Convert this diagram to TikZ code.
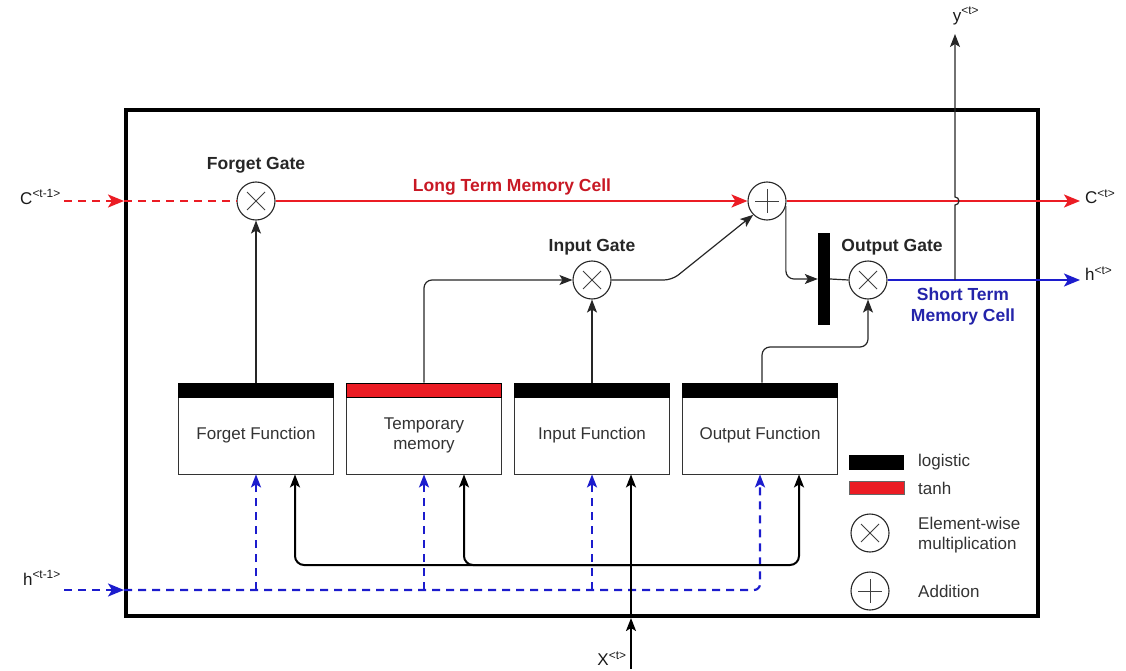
\documentclass[tikz,border=0pt]{standalone}
\usepackage{fontspec}
\setmainfont{Liberation Sans}
\usetikzlibrary{arrows.meta,calc}
\definecolor{cred}{RGB}{235,28,36}
\definecolor{ctxtred}{RGB}{200,24,36}
\definecolor{cblue}{RGB}{28,28,205}
\definecolor{ctxtblue}{RGB}{36,36,170}
\definecolor{cgray}{RGB}{51,51,51}
\begin{document}
\begin{tikzpicture}[x=1pt,y=-1pt,
  font=\fontsize{17}{20}\selectfont,
  arr/.style={-{Stealth[length=13pt,width=10pt,inset=3pt]}},
  bigarr/.style={-{Stealth[length=16pt,width=13pt,inset=4pt]}},
  conn/.style={draw=black!85,line width=1.2pt},
  bus/.style={draw=black,line width=2pt},
  redline/.style={draw=cred,line width=2.2pt},
  reddash/.style={draw=cred,line width=2.2pt,dash pattern=on 8pt off 6pt},
  blueline/.style={draw=cblue,line width=2.2pt},
  bluedash/.style={draw=cblue,line width=2.2pt,dash pattern=on 8pt off 6pt},
  mult/.style={circle,draw=black!85,fill=white,line width=1.1pt,minimum size=38pt,inner sep=0pt,
    path picture={\draw[line width=1pt,black!75]
      ([shift={(-9,-9)}]path picture bounding box.center)--([shift={(9,9)}]path picture bounding box.center)
      ([shift={(-9,9)}]path picture bounding box.center)--([shift={(9,-9)}]path picture bounding box.center);}},
  addc/.style={circle,draw=black!85,fill=white,line width=1.1pt,minimum size=38pt,inner sep=0pt,
    path picture={\draw[line width=1pt,black!75]
      ([shift={(-12,0)}]path picture bounding box.center)--([shift={(12,0)}]path picture bounding box.center)
      ([shift={(0,-12)}]path picture bounding box.center)--([shift={(0,12)}]path picture bounding box.center);}},
  lbl/.style={font=\fontsize{17.5}{21}\selectfont\bfseries,text=black!85,inner sep=1pt},
  fbox/.style={draw=black!80,line width=0.8pt,fill=white,minimum width=155pt,minimum height=77pt,inner sep=0pt,
    text=cgray,align=center,font=\fontsize{17}{20}\selectfont},
  fbar/.style={draw=black,line width=0.6pt,fill=black,minimum width=155pt,minimum height=14pt,inner sep=0pt},
  ext/.style={inner sep=1pt,text=black!90,font=\fontsize{17}{20}\selectfont},
  legtxt/.style={anchor=west,inner sep=0pt,text=cgray,align=left,font=\fontsize{17}{20}\selectfont}
]
\useasboundingbox (0,0) rectangle (1126,671);

% outer cell
\node[draw=black,line width=4pt,minimum width=912pt,minimum height=506pt,inner sep=0pt] (cell) at (582,363) {};

% gates
\node[mult] (fg) at (256,201) {};
\node[addc] (pl) at (767,201) {};
\node[mult] (ig) at (592,280) {};
\node[mult] (og) at (868,280) {};
\node[fill=black,minimum width=12pt,minimum height=92pt,inner sep=0pt] (bar) at (824,279) {};

% gate labels
\node[lbl] (fgl) at (256,165) {Forget Gate};
\node[lbl] (igl) at (592,247) {Input Gate};
\node[lbl] (ogl) at (892,247) {Output Gate};
\node[lbl,text=ctxtred] (ltm) at (512,187) {Long Term Memory Cell};
\node[lbl,text=ctxtblue,align=center] (stm) at (963,306) {Short Term\\Memory Cell};

% function boxes
\node[fbox] (fbx) at (256,435.5) {Forget Function};
\node[fbar] (fbr) at (256,390) {};
\node[fbox] (tbx) at (424,435.5) {Temporary\\memory};
\node[fbar,fill=cred] (tbr) at (424,390) {};
\node[fbox] (ibx) at (592,435.5) {Input Function};
\node[fbar] (ibr) at (592,390) {};
\node[fbox] (obx) at (760,435.5) {Output Function};
\node[fbar] (obr) at (760,390) {};

% external labels
\node[ext,anchor=east] (cinl) at (62,197) {C\textsuperscript{<t-1>}};
\node[ext,anchor=west] (coutl) at (1084,197) {C\textsuperscript{<t>}};
\node[ext,anchor=west] (houtl) at (1084,274) {h\textsuperscript{<t>}};
\node[ext,anchor=east] (hinl) at (62,578) {h\textsuperscript{<t-1>}};
\node[ext] (youtl) at (966,16) {y\textsuperscript{<t>}};
\node[ext] (xinl) at (612,659) {X\textsuperscript{<t>}};

% coordinates
\coordinate (cstart) at (64,201);
\coordinate (cend) at (1080,201);
\coordinate (hend) at (1080,280);
\coordinate (hstart) at (64,590);
\coordinate (yj) at (955,280);
\coordinate (hopA) at (955,205);
\coordinate (ytop) at (955,34);
\coordinate (igk) at (672,280);
\coordinate (ok) at (868,347);
\coordinate (xstart) at (631,669);
\coordinate (bj) at (631,565);

% long term memory line
\draw[reddash,bigarr] (cstart) -- (cell.west |- cstart);
\draw[reddash] (cell.west |- cstart) -- (fg.west);
\draw[redline,bigarr] (fg.east) -- (pl.west);
\draw[redline,bigarr] (pl.east) -- (cend);

% plus -> bar -> output gate -> h
\draw[conn,arr,rounded corners=8pt] (pl.-15) |- (bar.west);
\draw[conn] (bar.east) -- (og.west);
\draw[blueline,bigarr] (og.east) -- (hend);

% y output with hop over the red line
\draw[conn,arr] (yj) -- (hopA) arc[start angle=-90,end angle=90,radius=4pt] -- (ytop);

% input gate -> plus
\draw[conn,arr,rounded corners=8pt] (ig.east) -- (igk) -- (pl.225);

% function outputs
\draw[conn,arr] (fbr.north) -- (fg.south);
\draw[conn,arr,rounded corners=8pt] (tbr.north) |- (ig.west);
\draw[conn,arr] (ibr.north) -- (ig.south);
\draw[conn,arr,rounded corners=8pt] ([xshift=2pt]obr.north) |- (ok) -- (og.south);

% h(t-1) inputs
\draw[bluedash,bigarr] (hstart) -- (cell.west |- hstart);
\draw[bluedash,arr,rounded corners=6pt] (cell.west |- hstart) -| (obx.south);
\draw[bluedash,arr] (fbx.south |- hstart) -- (fbx.south);
\draw[bluedash,arr] (tbx.south |- hstart) -- (tbx.south);
\draw[bluedash,arr] (ibx.south |- hstart) -- (ibx.south);

% x(t) inputs
\draw[bus,arr] (xstart) -- (xstart |- cell.south);
\draw[bus,arr] (xstart |- cell.south) -- (xstart |- ibx.south);
\draw[bus,arr,rounded corners=9pt] (bj) -| ([xshift=39pt]fbx.south);
\draw[bus,arr,rounded corners=9pt] (bj) -| ([xshift=40pt]tbx.south);
\draw[bus,arr,rounded corners=9pt] (bj) -| ([xshift=39pt]obx.south);

% legend
\node[fill=black,minimum width=55pt,minimum height=15pt,inner sep=0pt] (lg1) at (876.5,462.5) {};
\node[fill=cred,draw=black!60,line width=0.5pt,minimum width=55pt,minimum height=13pt,inner sep=0pt] (lg2) at (876.5,488) {};
\node[mult] (lg3) at (870,533) {};
\node[addc] (lg4) at (870,591) {};
\node[legtxt] (lt1) at (918,462) {logistic};
\node[legtxt] (lt2) at (918,488) {tanh};
\node[legtxt] (lt3) at (918,535) {Element-wise\\multiplication};
\node[legtxt] (lt4) at (918,591) {Addition};
\end{tikzpicture}
\end{document}
